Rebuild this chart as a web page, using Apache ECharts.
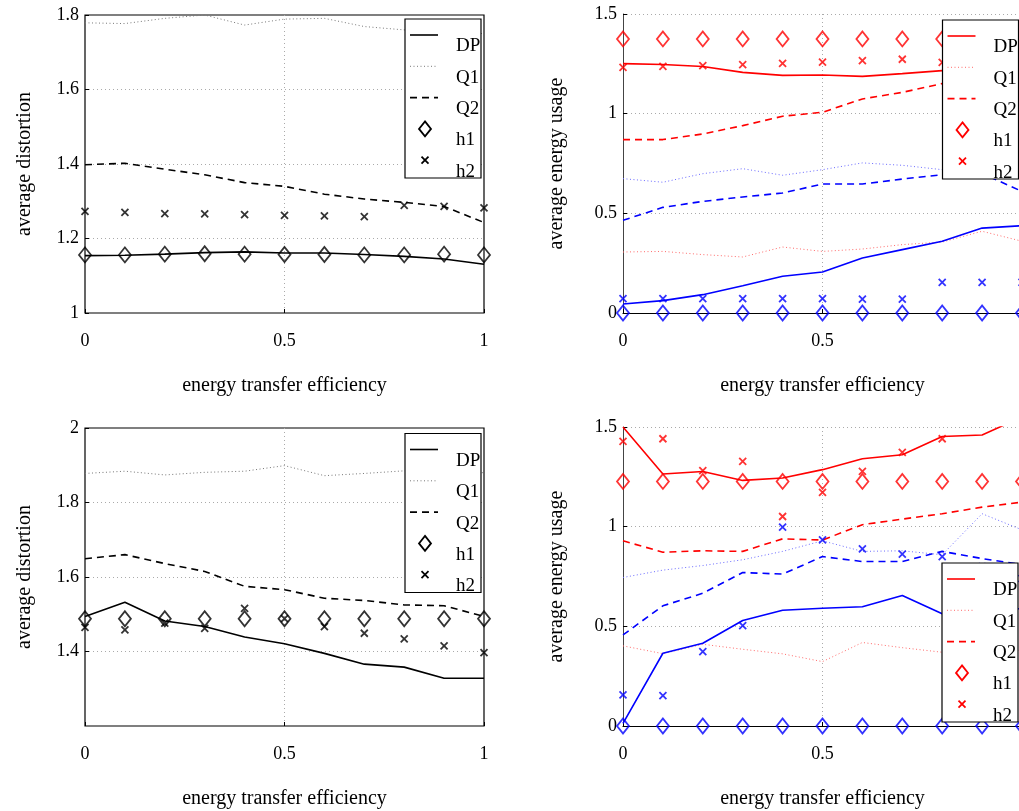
<!DOCTYPE html>
<html>
<head>
<meta charset="utf-8">
<script src="https://cdn.jsdelivr.net/npm/echarts@6/dist/echarts.min.js"></script>
<style>
html, body { margin: 0; padding: 0; background: #fff; }
#main { width: 1019px; height: 811px; }
</style>
</head>
<body>
<div id="main"></div>
<script>
// x 轴：能量传输效率
var xs = [0, 0.1, 0.2, 0.3, 0.4, 0.5, 0.6, 0.7, 0.8, 0.9, 1];
var legendNames = ['DP', 'Q1', 'Q2', 'h1', 'h2'];

// 左上：average distortion
var tlDP = [1.154, 1.155, 1.158, 1.162, 1.164, 1.161, 1.161, 1.157, 1.152, 1.145, 1.131];
var tlQ1 = [1.779, 1.777, 1.791, 1.800, 1.773, 1.789, 1.791, 1.769, 1.760, 1.755, 1.750];
var tlQ2 = [1.398, 1.402, 1.386, 1.371, 1.350, 1.340, 1.319, 1.306, 1.297, 1.286, 1.243];
var tlH1 = [1.156, 1.156, 1.158, 1.159, 1.158, 1.157, 1.157, 1.156, 1.156, 1.158, 1.156];
var tlH2 = [1.273, 1.270, 1.267, 1.266, 1.264, 1.262, 1.261, 1.259, 1.289, 1.286, 1.282];

// 右上：average energy usage（红 / 蓝）
var trDP = [1.251, 1.247, 1.237, 1.207, 1.192, 1.194, 1.187, 1.201, 1.216, 1.23, 1.24];
var trQ1 = [0.306, 0.309, 0.293, 0.281, 0.331, 0.309, 0.321, 0.343, 0.356, 0.41, 0.36];
var trQ2 = [0.870, 0.870, 0.898, 0.940, 0.987, 1.007, 1.074, 1.107, 1.151, 1.18, 1.21];
var trH1 = [1.375, 1.375, 1.375, 1.375, 1.375, 1.375, 1.375, 1.375, 1.375, 1.375, 1.375];
var trH2 = [1.232, 1.237, 1.241, 1.246, 1.252, 1.259, 1.266, 1.273, 1.257, 1.26, 1.26];
var trDPb = [0.045, 0.062, 0.092, 0.137, 0.184, 0.206, 0.276, 0.318, 0.360, 0.426, 0.438];
var trQ1b = [0.674, 0.656, 0.699, 0.724, 0.691, 0.719, 0.753, 0.741, 0.719, 0.72, 0.70];
var trQ2b = [0.465, 0.530, 0.560, 0.582, 0.602, 0.647, 0.647, 0.672, 0.694, 0.70, 0.61];
var trH1b = [0, 0, 0, 0, 0, 0, 0, 0, 0, 0, 0];
var trH2b = [0.072, 0.072, 0.072, 0.072, 0.072, 0.072, 0.070, 0.070, 0.154, 0.154, 0.154];

// 左下：average distortion
var blDP = [1.494, 1.532, 1.482, 1.467, 1.439, 1.421, 1.395, 1.366, 1.358, 1.328, 1.328];
var blQ1 = [1.878, 1.884, 1.874, 1.881, 1.884, 1.899, 1.872, 1.878, 1.885, 1.88, 1.88];
var blQ2 = [1.649, 1.660, 1.636, 1.615, 1.575, 1.566, 1.543, 1.537, 1.525, 1.523, 1.494];
var blH1 = [1.488, 1.488, 1.488, 1.488, 1.488, 1.488, 1.488, 1.488, 1.488, 1.488, 1.488];
var blH2 = [1.465, 1.458, 1.476, 1.462, 1.516, 1.488, 1.467, 1.449, 1.434, 1.415, 1.397];

// 右下：average energy usage（红 / 蓝）
var brDP = [1.5, 1.264, 1.277, 1.232, 1.244, 1.286, 1.341, 1.361, 1.452, 1.460, 1.55];
var brQ1 = [0.402, 0.363, 0.410, 0.385, 0.362, 0.323, 0.419, 0.393, 0.370, 0.37, 0.38];
var brQ2 = [0.929, 0.872, 0.879, 0.876, 0.939, 0.933, 1.010, 1.038, 1.065, 1.098, 1.123];
var brH1 = [1.227, 1.227, 1.227, 1.227, 1.227, 1.227, 1.227, 1.227, 1.227, 1.227, 1.227];
var brH2 = [1.428, 1.441, 1.281, 1.328, 1.051, 1.172, 1.277, 1.373, 1.441, 1.55, 1.58];
var brDPb = [0.013, 0.365, 0.415, 0.529, 0.581, 0.591, 0.598, 0.655, 0.563, 0.57, 0.59];
var brQ1b = [0.745, 0.782, 0.805, 0.834, 0.876, 0.929, 0.876, 0.879, 0.859, 1.065, 0.984];
var brQ2b = [0.457, 0.603, 0.666, 0.770, 0.762, 0.850, 0.825, 0.825, 0.876, 0.84, 0.81];
var brH1b = [0, 0, 0, 0, 0, 0, 0, 0, 0, 0, 0];
var brH2b = [0.156, 0.152, 0.373, 0.504, 0.998, 0.934, 0.889, 0.862, 0.850, 0.80, 0.74];

var xName = 'energy transfer efficiency';
var FONT = '"Liberation Serif", "Times New Roman", serif';

var DIAMOND = 'path://M5,0L10,7L5,14L0,7Z';
// 四周留白，让 x 标记小一点
var CROSS = 'path://M-4,-4M12,12M0,0L8,8M8,0L0,8';

var DASH = [7, 5], DOT = [1, 2.5];

var chart = echarts.init(document.getElementById('main'));

function pts(ys) {
    return xs.map(function (x, i) { return [x, ys[i]]; });
}

function line(name, idx, ys, color, type) {
    var dash = type === 'dashed' ? DASH : (type === 'dotted' ? DOT : 'solid');
    return {
        name: name,
        type: 'line',
        xAxisIndex: idx,
        yAxisIndex: idx,
        data: pts(ys),
        symbol: 'none',
        clip: true,
        animation: false,
        itemStyle: { color: color },
        lineStyle: { color: color, width: type === 'dotted' ? 1 : 1.6, type: dash }
    };
}

function marks(name, idx, ys, color, shape) {
    var isCross = shape === 'cross';
    return {
        name: name,
        type: 'scatter',
        xAxisIndex: idx,
        yAxisIndex: idx,
        data: pts(ys),
        symbol: isCross ? CROSS : DIAMOND,
        symbolSize: isCross ? 14 : [12, 15],
        clip: true,
        animation: false,
        z: 3,
        itemStyle: { color: 'rgba(0,0,0,0)', borderColor: color, borderWidth: isCross ? 1.8 : 1.8 }
    };
}

// 图例：仿 matlab 导出的样子，文字比图标低一点
function legendBox(x, y, color, dotColor) {
    var Z = 100;
    var kids = [{
        type: 'rect',
        z: Z,
        shape: { x: 0, y: 0, width: 76, height: 159 },
        style: { fill: '#fff', stroke: '#000', lineWidth: 1.2 }
    }];
    legendNames.forEach(function (n, i) {
        var cy = 16 + 31.3 * i;
        if (i < 3) {
            kids.push({
                type: 'line',
                z: Z + 1,
                shape: { x1: 5, y1: cy, x2: 33, y2: cy },
                style: {
                    stroke: i === 1 ? dotColor : color,
                    lineWidth: i === 1 ? 1 : 1.6,
                    lineDash: i === 0 ? null : (i === 1 ? DOT : DASH)
                }
            });
        } else if (i === 3) {
            kids.push({
                type: 'polygon',
                z: Z + 1,
                shape: { points: [[20, cy - 7.5], [26, cy], [20, cy + 7.5], [14, cy]] },
                style: { fill: 'none', stroke: color, lineWidth: 1.8 }
            });
        } else {
            kids.push({
                type: 'line',
                z: Z + 1,
                shape: { x1: 16.5, y1: cy - 3.5, x2: 23.5, y2: cy + 3.5 },
                style: { stroke: color, lineWidth: 1.8 }
            });
            kids.push({
                type: 'line',
                z: Z + 1,
                shape: { x1: 23.5, y1: cy - 3.5, x2: 16.5, y2: cy + 3.5 },
                style: { stroke: color, lineWidth: 1.8 }
            });
        }
        kids.push({
            type: 'text',
            z: Z + 1,
            x: 51,
            y: cy + 11.5,
            style: { text: n, fontFamily: FONT, fontSize: 19, fill: '#000', verticalAlign: 'middle' }
        });
    });
    return { type: 'group', x: x, y: y, z: Z, silent: true, children: kids };
}

function xAxisAt(idx, boxed) {
    return {
        type: 'value',
        gridIndex: idx,
        min: 0,
        max: 1,
        interval: 0.5,
        name: xName,
        nameLocation: 'middle',
        nameGap: 63,
        nameTextStyle: { fontFamily: FONT, fontSize: 20, color: '#000' },
        axisLine: { show: !boxed, onZero: false, lineStyle: { color: '#000', width: 1.2 } },
        axisTick: { show: true, inside: true, length: 4, lineStyle: { color: '#000' } },
        axisLabel: {
            margin: 19, fontFamily: FONT, fontSize: 18, color: '#000',
            formatter: function (v) { return String(v); }
        },
        splitLine: {
            show: true, showMinLine: false, showMaxLine: !boxed,
            lineStyle: { color: '#aaa', type: [1, 3], width: 1 }
        }
    };
}

function yAxisAt(idx, min, max, step, name, boxed, gap, showMin) {
    return {
        type: 'value',
        gridIndex: idx,
        min: min,
        max: max,
        interval: step,
        name: name,
        nameLocation: 'middle',
        nameGap: gap,
        nameTextStyle: { fontFamily: FONT, fontSize: 20, color: '#000' },
        axisLine: { show: !boxed, onZero: false, lineStyle: { color: '#444', width: 1 } },
        axisTick: { show: true, inside: true, length: 4, lineStyle: { color: '#000' } },
        axisLabel: {
            margin: 6, fontFamily: FONT, fontSize: 18, color: '#000', showMinLabel: showMin,
            formatter: function (v) { return String(Math.round(v * 10) / 10); }
        },
        splitLine: {
            show: true, showMinLine: false, showMaxLine: !boxed,
            lineStyle: { color: '#aaa', type: [1, 3], width: 1 }
        }
    };
}

var K = '#000', GRAY = '#777', RED = '#ff0000', PINK = '#ff6a6a', BLUE = '#0000ff', LBLUE = '#6a6aff';

var option = {
    backgroundColor: '#fff',
    animation: false,
    grid: [
        { left: 85, top: 15, width: 399, height: 298, show: true, borderColor: '#000', borderWidth: 1.2, backgroundColor: 'transparent', outerBoundsMode: 'none' },
        { left: 623, top: 14, width: 399, height: 299, outerBoundsMode: 'none' },
        { left: 85, top: 428, width: 399, height: 298, show: true, borderColor: '#000', borderWidth: 1.2, backgroundColor: 'transparent', outerBoundsMode: 'none' },
        { left: 623, top: 427, width: 399, height: 299, outerBoundsMode: 'none' }
    ],
    xAxis: [xAxisAt(0, true), xAxisAt(1, false), xAxisAt(2, true), xAxisAt(3, false)],
    yAxis: [
        yAxisAt(0, 1, 1.8, 0.2, 'average distortion', true, 50, true),
        yAxisAt(1, 0, 1.5, 0.5, 'average energy usage', false, 56, true),
        yAxisAt(2, 1.2, 2, 0.2, 'average distortion', true, 50, false),
        yAxisAt(3, 0, 1.5, 0.5, 'average energy usage', false, 56, true)
    ],
    graphic: [
        legendBox(405, 19, K, GRAY),
        legendBox(942.5, 20, RED, PINK),
        legendBox(405, 433.5, K, GRAY),
        legendBox(942, 563, RED, PINK)
    ],
    series: [
        line('DP', 0, tlDP, K, 'solid'),
        line('Q1', 0, tlQ1, GRAY, 'dotted'),
        line('Q2', 0, tlQ2, K, 'dashed'),
        marks('h1', 0, tlH1, K, 'diamond'),
        marks('h2', 0, tlH2, K, 'cross'),

        line('DP red', 1, trDP, RED, 'solid'),
        line('Q1 red', 1, trQ1, PINK, 'dotted'),
        line('Q2 red', 1, trQ2, RED, 'dashed'),
        marks('h1 red', 1, trH1, RED, 'diamond'),
        marks('h2 red', 1, trH2, RED, 'cross'),
        line('DP blue', 1, trDPb, BLUE, 'solid'),
        line('Q1 blue', 1, trQ1b, LBLUE, 'dotted'),
        line('Q2 blue', 1, trQ2b, BLUE, 'dashed'),
        marks('h1 blue', 1, trH1b, BLUE, 'diamond'),
        marks('h2 blue', 1, trH2b, BLUE, 'cross'),

        line('DP', 2, blDP, K, 'solid'),
        line('Q1', 2, blQ1, GRAY, 'dotted'),
        line('Q2', 2, blQ2, K, 'dashed'),
        marks('h1', 2, blH1, K, 'diamond'),
        marks('h2', 2, blH2, K, 'cross'),

        line('DP red', 3, brDP, RED, 'solid'),
        line('Q1 red', 3, brQ1, PINK, 'dotted'),
        line('Q2 red', 3, brQ2, RED, 'dashed'),
        marks('h1 red', 3, brH1, RED, 'diamond'),
        marks('h2 red', 3, brH2, RED, 'cross'),
        line('DP blue', 3, brDPb, BLUE, 'solid'),
        line('Q1 blue', 3, brQ1b, LBLUE, 'dotted'),
        line('Q2 blue', 3, brQ2b, BLUE, 'dashed'),
        marks('h1 blue', 3, brH1b, BLUE, 'diamond'),
        marks('h2 blue', 3, brH2b, BLUE, 'cross')
    ]
};

chart.setOption(option);
</script>
</body>
</html>
